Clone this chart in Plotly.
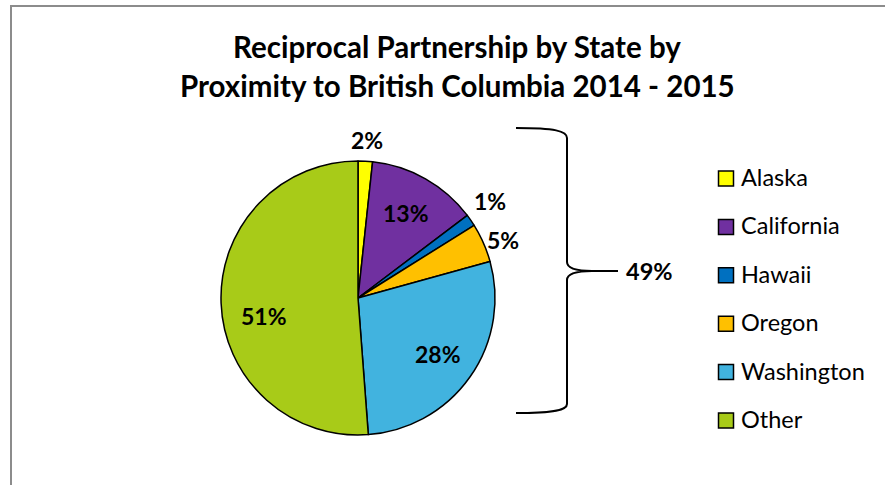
import math
import plotly.graph_objects as go

# ---- data ----
states = ["Alaska", "California", "Hawaii", "Oregon", "Washington", "Other"]
shares = [1.7, 13.0, 1.4, 4.6, 28.1, 51.2]
colors = ["#FFFF00", "#7030A0", "#0070C0", "#FFC000", "#41B3DF", "#A8CB18"]
label_pos = ["outside", "inside", "outside", "outside", "inside", "inside"]
title_lines = ["Reciprocal Partnership by State by",
               "Proximity to British Columbia 2014 - 2015"]

# ---- styling / layout constants ----
W, H = 885, 485
FONT = "Lato"
CX, CY, R = 358, 298, 137          # pie centre and radius in pixels
INSIDE_R = 0.71                    # inside label radius (fraction of R)
OUTSIDE_R = 1.17                   # outside label radius (fraction of R)
label_nudge = {"Other": (3, 14), "Hawaii": (0, -6), "Oregon": (-2, 7), "Alaska": (0, 2)}


def px(x):
    return x / W


def py(y):
    return 1 - y / H


fig = go.Figure()
fig.add_trace(go.Pie(
    labels=states,
    values=shares,
    sort=False,
    direction="clockwise",
    rotation=0,
    marker=dict(colors=colors, line=dict(color="black", width=1.5)),
    textinfo="none",
    domain=dict(x=[px(CX - R), px(CX + R)], y=[py(CY + R), py(CY - R)]),
    showlegend=False,
    hoverinfo="label+percent",
))

shapes = []
annotations = []

# percentage labels, placed at each slice's mid-angle
total = sum(shares)
cum = 0.0
for name, v, pos in zip(states, shares, label_pos):
    mid = (cum + v / 2) / total * 2 * math.pi
    cum += v
    rr = R * (INSIDE_R if pos == "inside" else OUTSIDE_R)
    lx = CX + rr * math.sin(mid)
    ly = CY - rr * math.cos(mid)
    nx, ny = label_nudge.get(name, (0, 0))
    annotations.append(dict(text=f"{v / total * 100:.0f}%", xref="paper", yref="paper",
                            x=px(lx + nx), y=py(ly + ny), xanchor="center", yanchor="middle",
                            showarrow=False,
                            font=dict(family=FONT, size=23, color="black", weight="bold")))

# frame
shapes.append(dict(type="rect", xref="paper", yref="paper",
                   x0=px(11), x1=px(W + 20), y0=py(H + 20), y1=py(6),
                   line=dict(color="#8C8C8C", width=2), fillcolor="rgba(0,0,0,0)"))

# title
for i, line in enumerate(title_lines):
    annotations.append(dict(text=line, xref="paper", yref="paper",
                            x=px(457), y=py(46 + 39.5 * i), xanchor="center", yanchor="middle",
                            showarrow=False,
                            font=dict(family=FONT, size=29.5, color="black", weight="bold")))


# brace around the non-"Other" group
def P(x, y):
    return f"{px(x):.5f},{py(y):.5f}"


brace = ("M " + P(516, 128) + " C " + P(555, 128) + " " + P(567, 131) + " " + P(567, 138)
         + " L " + P(567, 262)
         + " C " + P(567, 268) + " " + P(575, 271) + " " + P(592, 271)
         + " C " + P(575, 271) + " " + P(567, 274) + " " + P(567, 280)
         + " L " + P(567, 404)
         + " C " + P(567, 410) + " " + P(555, 413) + " " + P(516, 413)
         + " M " + P(590, 271) + " L " + P(618, 271))
shapes.append(dict(type="path", xref="paper", yref="paper", path=brace,
                   line=dict(color="black", width=2)))

group_total = sum(shares[:-1]) / total * 100
annotations.append(dict(text=f"{group_total:.0f}%", xref="paper", yref="paper",
                        x=px(624), y=py(271), xanchor="left", yanchor="middle",
                        showarrow=False,
                        font=dict(family=FONT, size=23.5, color="black", weight="bold")))

# legend
for i, (name, col) in enumerate(zip(states, colors)):
    cy = 178.5 + 48.4 * i
    shapes.append(dict(type="rect", xref="paper", yref="paper",
                       x0=px(718.5), x1=px(733.5), y0=py(cy + 7.5), y1=py(cy - 7.5),
                       fillcolor=col, line=dict(color="black", width=1.5)))
    annotations.append(dict(text=name, xref="paper", yref="paper",
                            x=px(739), y=py(cy - 1.5), xanchor="left", yanchor="middle",
                            showarrow=False,
                            font=dict(family=FONT, size=23.5, color="black")))

fig.update_layout(
    width=W, height=H,
    margin=dict(l=0, r=0, t=0, b=0),
    paper_bgcolor="white",
    plot_bgcolor="white",
    shapes=shapes,
    annotations=annotations,
)

fig.write_html("out.html")
